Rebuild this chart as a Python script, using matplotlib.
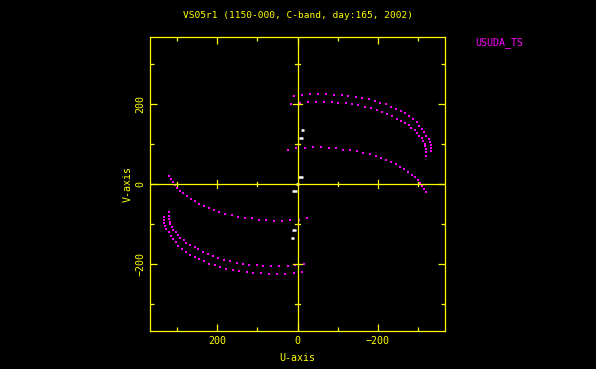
import matplotlib
matplotlib.use("Agg")
import matplotlib.pyplot as plt
import numpy as np

# uv-coverage (upper half); the lower half is the conjugate (-u, -v)
arc1_u = [10, -10, -32, -52, -72, -92, -110, -127, -145, -162, -178, -193, -207, -220, -233,
          -245, -257, -268, -278, -287, -297, -304, -310, -316, -321, -327, -331, -334, -333, -333]
arc1_v = [221, 223, 225, 225, 225, 224, 223, 221, 219, 216, 212, 209, 204, 200, 194,
          188, 183, 177, 171, 162, 154, 146, 137, 129, 121, 113, 106, 98, 91, 83]

arc2_u = [16, -7, -25, -45, -65, -85, -102, -120, -137, -152, -169, -183, -198, -211, -223, -236,
          -248, -257, -268, -277, -284, -292, -298, -304, -310, -314, -318, -319, -321, -321, -321]
arc2_v = [200, 204, 206, 206, 206, 205, 204, 202, 201, 197, 194, 190, 185, 181, 175, 169,
          163, 157, 152, 147, 140, 134, 127, 121, 115, 108, 101, 94, 87, 79, 71]

arc3_u = [24, 3, -19, -38, -58, -78, -95, -113, -131, -148, -164, -180, -195, -208, -221, -233,
          -245, -256, -266, -276, -285, -292, -300, -306, -311, -316, -320]
arc3_v = [86, 89, 91, 92, 92, 91, 90, 86, 85, 82, 78, 75, 70, 65, 61, 54,
          49, 43, 37, 31, 23, 17, 10, 3, -4, -12, -20]

# short white tracks near u=0
white_v = [134, 115, 18, 0]
white_u0 = [-8, -3, -2, 4]
white_u1 = [-17, -14, -14, -2]

title = "VS05r1 (1150-000, C-band, day:165, 2002)"
legend_name = "USUDA_TS"
lim = 368

YEL = "#ffff00"
MAG = "#ff00ff"
FONT = "DejaVu Sans Mono"

fig = plt.figure(figsize=(5.96, 3.69), dpi=100, facecolor="black")
ax = fig.add_axes([0.2517, 0.1030, 0.4950, 0.7967], facecolor="black")

for u, v in ((arc1_u, arc1_v), (arc2_u, arc2_v), (arc3_u, arc3_v)):
    u = np.array(u); v = np.array(v)
    ax.plot(u, v, ls="none", marker="s", ms=1.6, mew=0, color=MAG)
    ax.plot(-u, -v, ls="none", marker="s", ms=1.6, mew=0, color=MAG)

wv = np.array(white_v); w0 = np.array(white_u0); w1 = np.array(white_u1)
ax.hlines(wv, w0, w1, colors="white", lw=1.8)
ax.hlines(-wv, -w0, -w1, colors="white", lw=1.8)

ax.set_xlim(lim, -lim)
ax.set_ylim(-lim, lim)

# centre cross with its own ticks
ax.axhline(0, color=YEL, lw=0.9)
ax.axvline(0, color=YEL, lw=0.9)
for t in (-300, -200, -100, 100, 200, 300):
    h = 11 if t % 200 == 0 else 6
    ax.plot([t, t], [-h, h], color=YEL, lw=0.9)
    ax.plot([-h, h], [t, t], color=YEL, lw=0.9)

ax.set_xticks([200, 0, -200])
ax.set_xticklabels(["200", "0", "\u2212200"])
ax.set_yticks([-200, 0, 200])
ax.set_yticklabels(["\u2212200", "0", "200"], rotation=90, va="center")
ax.set_xticks([300, 100, -100, -300], minor=True)
ax.set_yticks([300, 100, -100, -300], minor=True)
ax.tick_params(which="both", direction="in", color=YEL, labelcolor=YEL,
               top=True, right=True, width=0.9)
ax.tick_params(which="major", length=5, labelsize=7.2, pad=3.5)
ax.tick_params(which="minor", length=3)
for lab in ax.get_xticklabels() + ax.get_yticklabels():
    lab.set_family(FONT)
for s in ax.spines.values():
    s.set_color(YEL)
    s.set_linewidth(0.9)

ax.set_xlabel("U-axis", color=YEL, fontsize=7.2, family=FONT, labelpad=5)
ax.set_ylabel("V-axis", color=YEL, fontsize=7.2, family=FONT, labelpad=2)
fig.text(0.5, 0.958, title, color=YEL, fontsize=6.8, family=FONT, ha="center", va="center")
fig.text(0.797, 0.886, legend_name, color=MAG, fontsize=7.2, family=FONT, ha="left", va="center")

fig.savefig("out.png", dpi=100, facecolor="black")
